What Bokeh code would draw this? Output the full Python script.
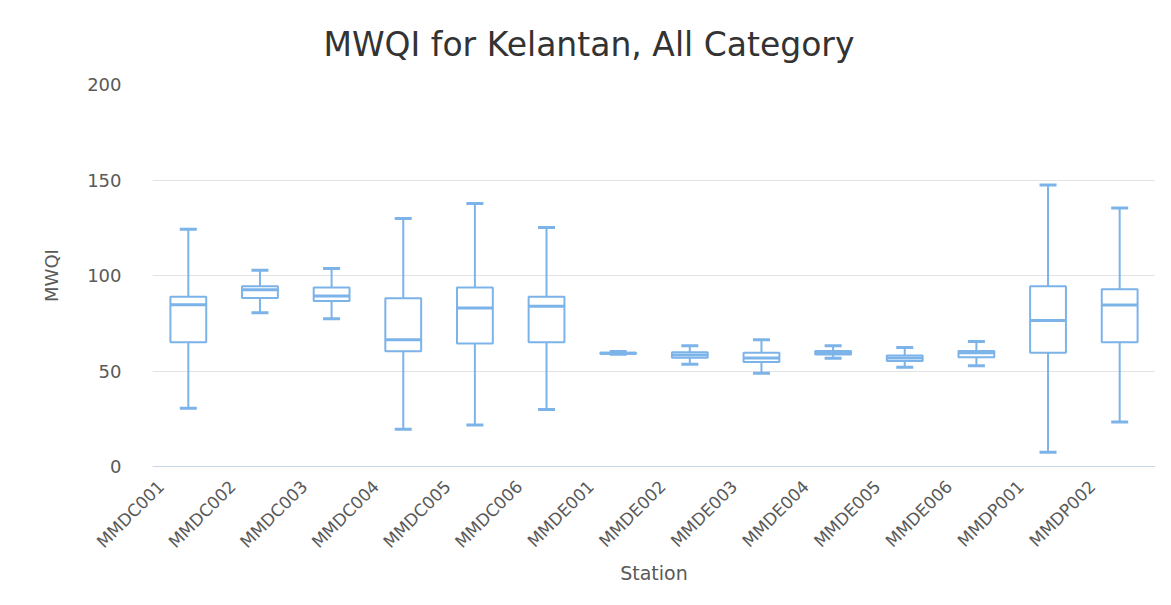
import math
from bokeh.plotting import figure
from bokeh.models import (ColumnDataSource, Range1d, FixedTicker, Whisker, TeeHead, LinearAxis)
from bokeh.transform import dodge
from bokeh.embed import file_html
from bokeh.resources import INLINE

stations = ["MMDC001", "MMDC002", "MMDC003", "MMDC004", "MMDC005", "MMDC006",
            "MMDE001", "MMDE002", "MMDE003", "MMDE004", "MMDE005", "MMDE006",
            "MMDP001", "MMDP002"]
lower  = [30.5, 80.5, 77.4, 19.5, 21.7, 29.8, 58.8, 53.5, 48.8, 56.7, 51.9, 52.8, 7.4, 23.3]
q1     = [65.1, 88.2, 86.7, 60.4, 64.4, 65.1, 59.0, 57.0, 54.7, 58.6, 55.3, 57.2, 59.6, 65.1]
median = [84.7, 92.6, 89.3, 66.3, 83.0, 83.9, 59.3, 58.4, 56.8, 59.6, 56.8, 59.5, 76.5, 84.6]
q3     = [88.9, 94.4, 93.7, 88.1, 93.7, 88.9, 59.6, 59.8, 59.6, 60.5, 58.1, 60.5, 94.4, 92.8]
upper  = [124.2, 102.8, 103.7, 129.8, 137.7, 125.1, 60.2, 63.2, 66.3, 63.2, 62.3, 65.4, 147.4, 135.4]
y_ticks = [0, 50, 100, 150, 200]

COLOR = "#7cb3e8"
FONT = "DejaVu Sans"
GREY = "#595959"
LABEL_SHIFT = 0.38  # category widths: rotated labels end left of their box, as in the original

n = len(stations)
pos = [i + 0.5 for i in range(n)]  # category slot centres
src = ColumnDataSource(dict(x=pos, name=stations, lower=lower, q1=q1, median=median,
                            q3=q3, upper=upper))

p = figure(width=1155, height=589, x_range=Range1d(0, n), y_range=Range1d(0, 200),
           output_backend="svg", toolbar_location=None,
           min_border_left=152, min_border_right=0, min_border_top=84, min_border_bottom=123)
p.extra_x_ranges = {"lab": Range1d(LABEL_SHIFT, n + LABEL_SHIFT)}

p.title.text = "MWQI for Kelantan, All Category"
p.title.text_font = FONT
p.title.text_font_size = "33px"
p.title.text_font_style = "normal"
p.title.text_color = "#333333"
p.title.align = "left"
p.title.offset = 171
p.title.standoff = 42

p.outline_line_color = None
p.background_fill_color = "white"
p.border_fill_color = "white"

# whiskers
up = Whisker(source=src, base="x", lower="q3", upper="upper", line_color=COLOR, line_width=2,
             upper_head=TeeHead(size=17, line_color=COLOR, line_width=3), lower_head=None)
lo = Whisker(source=src, base="x", lower="lower", upper="q1", line_color=COLOR, line_width=2,
             lower_head=TeeHead(size=17, line_color=COLOR, line_width=3), upper_head=None)
p.add_layout(up)
p.add_layout(lo)

p.vbar(x="x", width=0.5, top="q3", bottom="q1", source=src,
       fill_color="white", line_color=COLOR, line_width=2)
p.segment(x0=dodge("x", -0.25), x1=dodge("x", 0.25),
          y0="median", y1="median", source=src, line_color=COLOR, line_width=3)

# y axis
p.yaxis.ticker = FixedTicker(ticks=y_ticks)
p.yaxis.axis_line_color = None
p.yaxis.major_tick_line_color = None
p.yaxis.minor_tick_line_color = None
p.yaxis.major_label_standoff = 25
p.yaxis.major_label_text_font = FONT
p.yaxis.major_label_text_font_size = "18px"
p.yaxis.major_label_text_color = GREY
p.yaxis.axis_label = "MWQI"
p.yaxis.axis_label_text_font = FONT
p.yaxis.axis_label_text_font_size = "18px"
p.yaxis.axis_label_text_font_style = "normal"
p.yaxis.axis_label_text_color = GREY
p.yaxis.axis_label_standoff = 22

# x axis: default one hidden, labelled one on a slightly shifted range
p.xaxis.visible = False
xa = LinearAxis(x_range_name="lab", ticker=FixedTicker(ticks=pos),
                major_label_overrides={t: s for t, s in zip(pos, stations)})
xa.axis_line_color = "#c8d6e6"
xa.axis_line_width = 1
xa.major_tick_line_color = None
xa.minor_tick_line_color = None
xa.major_label_orientation = math.pi / 4
xa.major_label_text_font = FONT
xa.major_label_text_font_size = "17px"
xa.major_label_text_color = GREY
xa.major_label_standoff = 11
xa.axis_label = "Station"
xa.axis_label_text_font = FONT
xa.axis_label_text_font_size = "19px"
xa.axis_label_text_font_style = "normal"
xa.axis_label_text_color = GREY
xa.axis_label_standoff = 0
p.add_layout(xa, "below")

p.xgrid.grid_line_color = None
p.ygrid.grid_line_color = "#e3e3e3"
p.ygrid.grid_line_width = 1

open("out.html", "w").write(file_html(p, INLINE))
